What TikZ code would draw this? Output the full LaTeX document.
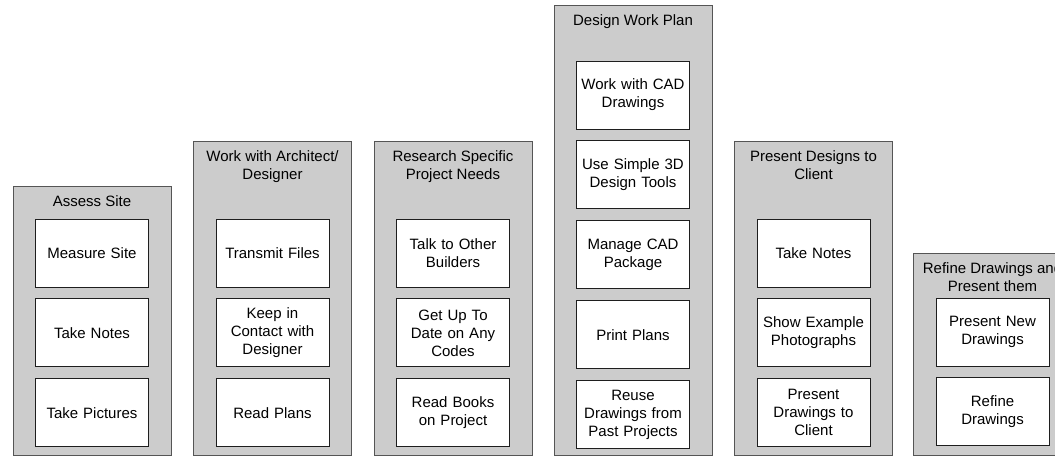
\documentclass[tikz,border=0pt]{standalone}
\usepackage{fontspec}
\setmainfont{Liberation Sans}
\usetikzlibrary{positioning}
\definecolor{framegray}{RGB}{204,204,204}
\definecolor{framedraw}{RGB}{85,85,85}
\definecolor{taskdraw}{RGB}{30,30,30}

\begin{document}
\begin{tikzpicture}[x=1pt, y=-1pt, node distance=11pt, font=\fontsize{15}{18}\selectfont]
    \tikzstyle{phase}=[rectangle, draw=framedraw, fill=framegray, line width=0.9pt, minimum width=158pt, anchor=north, inner sep=0pt]
    \tikzstyle{title}=[align=center, inner sep=2pt]
    \tikzstyle{task}=[rectangle, draw=taskdraw, fill=white, line width=0.9pt, minimum width=113pt, minimum height=68pt, text width=108pt, align=center, inner sep=0pt]

    \useasboundingbox (0,0) rectangle (1055,458);
    \clip (0,0) rectangle (1055,458);

    % Assess site
    \node[phase, minimum height=269pt] (assess) at (92,186) {};
    \node[title] (assessT) [below=7pt of assess.north] {Assess Site};
    \node[task] (measure) at (92,253) {Measure Site};
    \node[task] (notesA) [below=of measure] {Take Notes};
    \node[task] (pictures) [below=of notesA] {Take Pictures};

    % Work with architect
    \node[phase, minimum height=314pt] (architect) at (272.5,141) {};
    \node[title] (architectT) [below=7pt of architect.north] {Work with Architect/\\Designer};
    \node[task] (transmit) at (272.5,253) {Transmit Files};
    \node[task] (contact) [below=of transmit] {Keep in\\Contact with\\Designer};
    \node[task] (readplans) [below=of contact] {Read Plans};

    % Research needs
    \node[phase, minimum height=314pt] (research) at (453,141) {};
    \node[title] (researchT) [below=7pt of research.north] {Research Specific\\Project Needs};
    \node[task] (builders) at (453,253) {Talk to Other\\Builders};
    \node[task] (codes) [below=of builders] {Get Up To\\Date on Any\\Codes};
    \node[task] (books) [below=of codes] {Read Books\\on Project};

    % Design work plan
    \node[phase, minimum height=450pt] (design) at (633,5) {};
    \node[title] (designT) [below=7pt of design.north] {Design Work Plan};
    \node[task] (cad) at (633,95) {Work with CAD\\Drawings};
    \node[task] (simple3d) [below=of cad] {Use Simple 3D\\Design Tools};
    \node[task] (package) [below=of simple3d] {Manage CAD\\Package};
    \node[task] (print) [below=of package] {Print Plans};
    \node[task] (reuse) [below=of print] {Reuse\\Drawings from\\Past Projects};

    % Present designs
    \node[phase, minimum height=314pt] (present) at (813.5,141) {};
    \node[title] (presentT) [below=7pt of present.north] {Present Designs to\\Client};
    \node[task] (notesB) at (813.5,253) {Take Notes};
    \node[task] (photos) [below=of notesB] {Show Example\\Photographs};
    \node[task] (toclient) [below=of photos] {Present\\Drawings to\\Client};

    % Refine drawings
    \node[phase, minimum height=202pt] (refine) at (992.5,253) {};
    \node[title] (refineT) [below=7pt of refine.north] {Refine Drawings and\\Present them};
    \node[task] (newdraw) at (992.5,332) {Present New\\Drawings};
    \node[task] (refinedraw) [below=of newdraw] {Refine\\Drawings};
\end{tikzpicture}
\end{document}
